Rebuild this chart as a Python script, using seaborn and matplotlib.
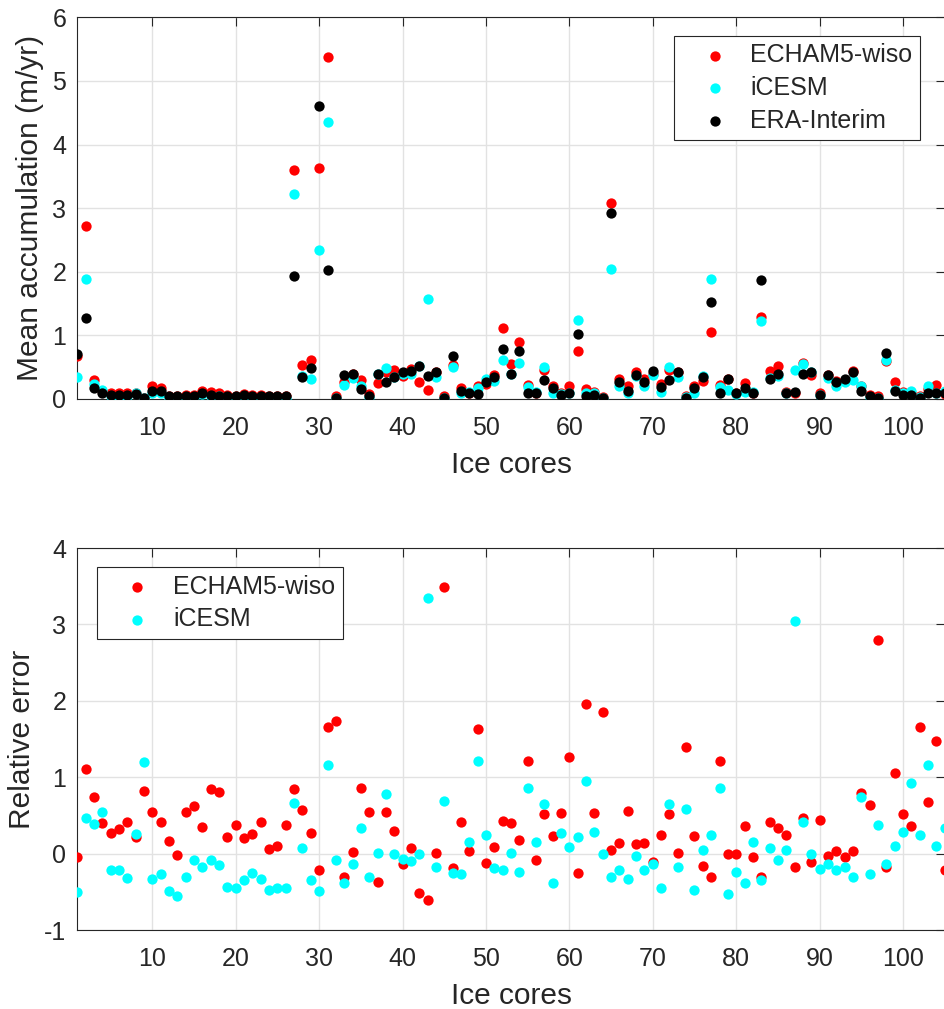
import matplotlib
matplotlib.use("Agg")
import matplotlib.pyplot as plt
import seaborn as sns

# Ice core index
cores = list(range(1, 106))

# Mean accumulation (m/yr)
era_interim = [
    0.70, 1.28, 0.17, 0.09, 0.07, 0.07, 0.07, 0.08, 0.01, 0.13,
    0.13, 0.04, 0.05, 0.04, 0.04, 0.09, 0.06, 0.05, 0.05, 0.04,
    0.07, 0.05, 0.05, 0.05, 0.04, 0.04, 1.94, 0.34, 0.49, 4.61,
    2.02, 0.02, 0.37, 0.39, 0.16, 0.05, 0.40, 0.27, 0.35, 0.42,
    0.44, 0.52, 0.36, 0.42, 0.01, 0.67, 0.12, 0.10, 0.08, 0.26,
    0.35, 0.78, 0.39, 0.75, 0.10, 0.10, 0.30, 0.17, 0.06, 0.09,
    1.02, 0.05, 0.07, 0.01, 2.93, 0.27, 0.13, 0.37, 0.27, 0.44,
    0.19, 0.30, 0.42, 0.02, 0.17, 0.34, 1.52, 0.10, 0.31, 0.10,
    0.18, 0.10, 1.87, 0.31, 0.39, 0.09, 0.11, 0.39, 0.43, 0.07,
    0.38, 0.27, 0.31, 0.43, 0.12, 0.04, 0.01, 0.72, 0.13, 0.07,
    0.07, 0.02, 0.09, 0.09, 0.10,
]
echam5_acc = [
    0.67, 2.72, 0.30, 0.13, 0.09, 0.09, 0.10, 0.10, 0.02, 0.20,
    0.18, 0.05, 0.05, 0.06, 0.06, 0.12, 0.11, 0.09, 0.06, 0.055,
    0.085, 0.063, 0.07, 0.053, 0.044, 0.055, 3.60, 0.53, 0.62, 3.63,
    5.38, 0.055, 0.26, 0.40, 0.30, 0.08, 0.25, 0.42, 0.45, 0.36,
    0.47, 0.26, 0.14, 0.43, 0.045, 0.54, 0.17, 0.10, 0.21, 0.23,
    0.38, 1.12, 0.55, 0.89, 0.22, 0.09, 0.46, 0.21, 0.09, 0.20,
    0.76, 0.15, 0.11, 0.03, 3.08, 0.31, 0.20, 0.42, 0.31, 0.39,
    0.24, 0.46, 0.42, 0.05, 0.21, 0.28, 1.05, 0.22, 0.31, 0.10,
    0.245, 0.095, 1.29, 0.44, 0.52, 0.11, 0.09, 0.57, 0.38, 0.10,
    0.37, 0.28, 0.30, 0.44, 0.21, 0.065, 0.04, 0.60, 0.27, 0.11,
    0.095, 0.05, 0.15, 0.22, 0.08,
]
icesm_acc = [
    0.35, 1.88, 0.24, 0.14, 0.055, 0.055, 0.05, 0.10, 0.022, 0.087,
    0.095, 0.02, 0.022, 0.028, 0.037, 0.075, 0.055, 0.043, 0.028, 0.022,
    0.046, 0.037, 0.033, 0.026, 0.022, 0.022, 3.23, 0.36, 0.32, 2.35,
    4.36, 0.018, 0.225, 0.335, 0.21, 0.035, 0.40, 0.48, 0.35, 0.39,
    0.40, 0.52, 1.57, 0.35, 0.017, 0.50, 0.088, 0.115, 0.18, 0.32,
    0.28, 0.62, 0.39, 0.57, 0.186, 0.115, 0.50, 0.10, 0.076, 0.097,
    1.24, 0.10, 0.09, 0.01, 2.05, 0.21, 0.087, 0.36, 0.21, 0.38,
    0.105, 0.50, 0.34, 0.03, 0.09, 0.36, 1.88, 0.186, 0.146, 0.077,
    0.11, 0.115, 1.22, 0.33, 0.355, 0.095, 0.45, 0.55, 0.43, 0.056,
    0.33, 0.21, 0.26, 0.30, 0.21, 0.03, 0.014, 0.62, 0.14, 0.09,
    0.13, 0.025, 0.20, 0.10, 0.13,
]

# Relative error of the model accumulation
echam5_relerr = [
    -0.04, 1.11, 0.74, 0.40, 0.27, 0.32, 0.42, 0.22, 0.82, 0.55,
    0.41, 0.17, -0.02, 0.54, 0.62, 0.35, 0.85, 0.81, 0.22, 0.38,
    0.21, 0.26, 0.41, 0.06, 0.10, 0.38, 0.85, 0.57, 0.27, -0.21,
    1.66, 1.73, -0.31, 0.02, 0.86, 0.54, -0.37, 0.55, 0.29, -0.14,
    0.07, -0.51, -0.61, 0.01, 3.49, -0.19, 0.41, 0.03, 1.63, -0.12,
    0.09, 0.43, 0.40, 0.18, 1.21, -0.08, 0.52, 0.23, 0.53, 1.26,
    -0.25, 1.96, 0.53, 1.85, 0.05, 0.14, 0.56, 0.13, 0.14, -0.11,
    0.25, 0.52, 0.01, 1.39, 0.23, -0.16, -0.31, 1.21, 0.00, -0.01,
    0.36, -0.05, -0.31, 0.41, 0.33, 0.24, -0.17, 0.47, -0.11, 0.44,
    -0.03, 0.04, -0.05, 0.03, 0.79, 0.63, 2.79, -0.17, 1.06, 0.52,
    0.36, 1.66, 0.67, 1.47, -0.22,
]
icesm_relerr = [
    -0.50, 0.47, 0.39, 0.55, -0.22, -0.21, -0.32, 0.26, 1.20, -0.33,
    -0.27, -0.49, -0.55, -0.31, -0.08, -0.17, -0.09, -0.15, -0.44, -0.45,
    -0.34, -0.26, -0.33, -0.48, -0.45, -0.45, 0.66, 0.07, -0.35, -0.49,
    1.16, -0.08, -0.39, -0.14, 0.33, -0.31, 0.01, 0.78, -0.01, -0.07,
    -0.10, 0.00, 3.34, -0.18, 0.69, -0.25, -0.27, 0.15, 1.21, 0.24,
    -0.19, -0.21, 0.01, -0.24, 0.86, 0.15, 0.65, -0.39, 0.27, 0.08,
    0.22, 0.95, 0.28, -0.01, -0.30, -0.21, -0.33, -0.03, -0.21, -0.14,
    -0.45, 0.65, -0.18, 0.58, -0.47, 0.05, 0.24, 0.86, -0.53, -0.24,
    -0.39, 0.15, -0.35, 0.07, -0.09, 0.05, 3.05, 0.41, 0.00, -0.20,
    -0.14, -0.21, -0.18, -0.30, 0.74, -0.27, 0.37, -0.14, 0.10, 0.28,
    0.92, 0.25, 1.16, 0.10, 0.33,
]

RED = "#ff0000"
CYAN = "#00ffff"
BLACK = "#000000"
AXCOL = "#262626"
MS = 55

sns.set_style("white")
plt.rcParams["font.family"] = ["Liberation Sans", "DejaVu Sans"]
plt.rcParams["axes.unicode_minus"] = False

W, H = 944, 1009
fig = plt.figure(figsize=(W / 100, H / 100), dpi=100)


def px_axes(left, top, right, bottom):
    return fig.add_axes([left / W, 1 - bottom / H, (right - left) / W, (bottom - top) / H])


def style(ax, ylim, yticks, ylabel):
    ax.set_xlim(1, 105)
    ax.set_ylim(*ylim)
    ax.set_xticks(range(10, 101, 10))
    ax.set_yticks(yticks)
    ax.grid(True, color="#e2e2e2", linewidth=1.0)
    ax.set_axisbelow(True)
    ax.tick_params(direction="in", length=6.3, width=0.8, color=AXCOL,
                   labelsize=18, labelcolor=AXCOL, top=True, right=True)
    ax.tick_params(axis="x", pad=12)
    ax.tick_params(axis="y", pad=8)
    for sp in ax.spines.values():
        sp.set_color(AXCOL)
        sp.set_linewidth(0.8)
    ax.set_xlabel("Ice cores", fontsize=21.5, color=AXCOL, labelpad=8)
    ax.set_ylabel(ylabel, fontsize=21.5, color=AXCOL, labelpad=6)


def legend(ax, anchor):
    leg = ax.legend(loc="upper left", bbox_to_anchor=anchor, borderaxespad=0,
                    frameon=True, fancybox=False, framealpha=1,
                    edgecolor=AXCOL, fontsize=18, handlelength=2.65,
                    handletextpad=0.1, labelspacing=0.34, borderpad=0.3,
                    scatterpoints=1)
    leg.get_frame().set_linewidth(0.8)
    return leg


# Mean accumulation
ax1 = px_axes(77.3, 17.3, 944.7, 399)
sns.scatterplot(x=cores, y=echam5_acc, color=RED, s=MS, linewidth=0, ax=ax1,
                label="ECHAM5-wiso", zorder=3)
sns.scatterplot(x=cores, y=icesm_acc, color=CYAN, s=MS, linewidth=0, ax=ax1,
                label="iCESM", zorder=3)
sns.scatterplot(x=cores, y=era_interim, color=BLACK, s=MS, linewidth=0, ax=ax1,
                label="ERA-Interim", zorder=3)
style(ax1, (0, 6), range(0, 7), "Mean accumulation (m/yr)")
legend(ax1, ((674 - 77.3) / 867.4, (399 - 36) / 381.7))

# Relative error
ax2 = px_axes(77.3, 548, 944.7, 930)
sns.scatterplot(x=cores, y=echam5_relerr, color=RED, s=MS, linewidth=0, ax=ax2,
                label="ECHAM5-wiso", zorder=3)
sns.scatterplot(x=cores, y=icesm_relerr, color=CYAN, s=MS, linewidth=0, ax=ax2,
                label="iCESM", zorder=3)
style(ax2, (-1, 4), range(-1, 5), "Relative error")
legend(ax2, ((96.7 - 77.3) / 867.4, (930 - 567.3) / 382))

fig.savefig("out.png", dpi=100)
